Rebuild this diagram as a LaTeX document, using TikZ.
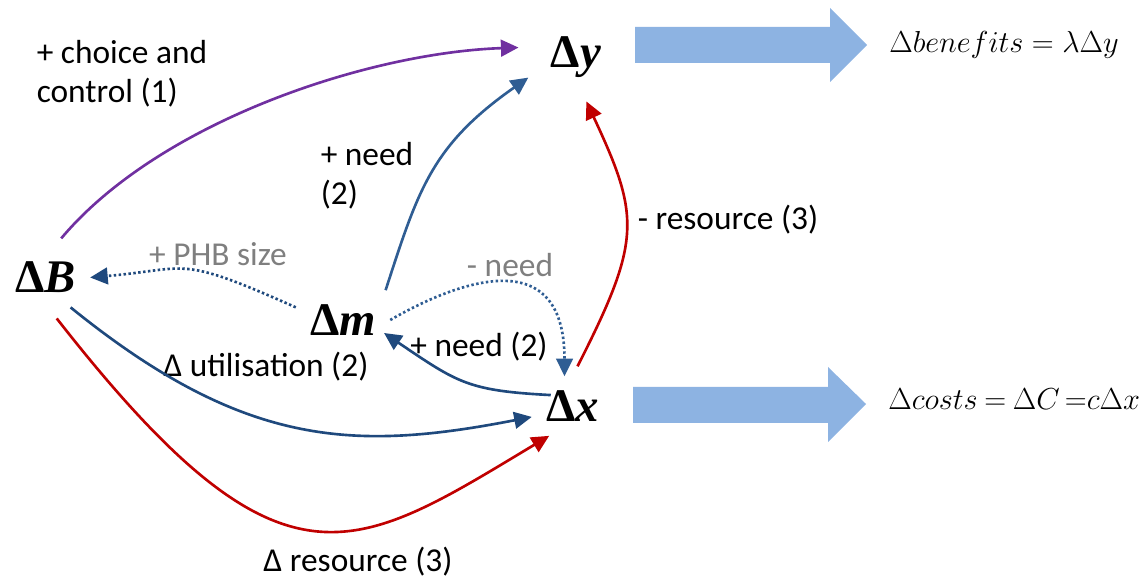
\documentclass[tikz,border=0pt]{standalone}
\usepackage[no-math]{fontspec}
\usepackage{amsmath}
\usepackage{xcolor}
\usepackage{tikz}
\usetikzlibrary{arrows.meta}
\newfontfamily\labelfont{Carlito}
\newfontfamily\deltafont{Liberation Serif}
\definecolor{purpleline}{HTML}{7030A0}
\definecolor{blueline}{HTML}{2F5D93}
\definecolor{darkblue}{HTML}{1F497D}
\definecolor{redline}{HTML}{C00000}
\definecolor{greytext}{HTML}{7F7F7F}
\definecolor{bigarrow}{HTML}{8DB3E2}

\begin{document}
\begin{tikzpicture}[
    sym/.style={inner sep=8pt, font=\deltafont\fontsize{26.6}{30}\selectfont\bfseries},
    lbl/.style={inner sep=0pt, align=left, font=\labelfont\fontsize{19}{22.2}\selectfont},
    eq/.style={inner sep=0pt, anchor=west, font=\fontsize{17.2}{20}\selectfont},
    con/.style={line width=1.5pt, -{Triangle[length=10pt, width=9.5pt]}},
    dotcon/.style={con, dash pattern=on 1.4pt off 1.4pt},
]
    \useasboundingbox (0,0) rectangle (22.92,11.58);

    \node[sym] (B) at (0.91,6.03) {Δ\textit{B}};
    \node[sym] (m) at (6.86,5.18) {Δ\textit{m}};
    \node[sym] (x) at (11.45,3.46) {Δ\textit{x}};
    \node[sym] (y) at (11.52,10.43) {Δ\textit{y}};

    \node[eq] (ben) at (17.78,10.69) {$\Delta benefits = \lambda\Delta y$};
    \node[eq] (cost) at (17.76,3.59) {\thickmuskip=4mu$\Delta costs = \Delta C\,{=}c\Delta x$};

    \node[lbl] (choice) at (2.44,10.11) {+ choice and\\control (1)};
    \node[lbl] (needy) at (7.34,8.07) {+ need\\(2)};
    \node[lbl, greytext] (phb) at (4.36,6.5) {+ PHB size};
    \node[lbl, greytext] (needx) at (10.2,6.27) {- need};
    \node[lbl] (resy) at (14.56,7.18) {- resource (3)};
    \node[lbl] (needm) at (9.58,4.64) {+ need (2)};
    \node[lbl] (util) at (5.32,4.24) {Δ utilisation (2)};
    \node[lbl] (resx) at (7.16,0.34) {Δ resource (3)};

    \fill[bigarrow] (12.7,10.32) -- (16.6,10.32) -- (16.6,9.94) -- (17.34,10.68) -- (16.6,11.42) -- (16.6,11.04) -- (12.7,11.04) -- cycle;
    \fill[bigarrow] (12.66,3.12) -- (16.56,3.12) -- (16.56,2.74) -- (17.32,3.5) -- (16.56,4.24) -- (16.56,3.84) -- (12.66,3.84) -- cycle;

    \draw[con, purpleline, shorten <=0.24cm, shorten >=0.36cm] (B.75) to[out=50, in=182, out distance=3.29cm, in distance=3.37cm] (y.165);
    \draw[con, blueline, shorten >=0.2cm] (m.35) to[out=72, in=215, out distance=2.1cm, in distance=2.57cm] (y.200);
    \draw[con, redline, shorten <=0.22cm, shorten >=0.2cm] (x.north) to[out=63, in=-65, out distance=3.06cm, in distance=2.74cm] (y.-80);
    \draw[dotcon, blueline] (m.east) to[out=30, in=90, out distance=1.34cm, in distance=2.8cm] (x.105);
    \draw[dotcon, darkblue] (m.165) to[out=156, in=5, out distance=2.61cm, in distance=2.02cm] (B.east);
    \draw[con, darkblue, shorten >=-0.15cm] ([xshift=0.38cm]x.165) to[out=177, in=-34, out distance=1.67cm, in distance=1.63cm] (m.-20);
    \draw[con, darkblue] (B.-50) to[out=-39, in=191, out distance=4.46cm, in distance=3.62cm] (x.195);
    \draw[con, redline, shorten <=0.28cm] (B.-85) to[out=-52, in=211, out distance=7.6cm, in distance=4.6cm] (x.232);
\end{tikzpicture}
\end{document}
